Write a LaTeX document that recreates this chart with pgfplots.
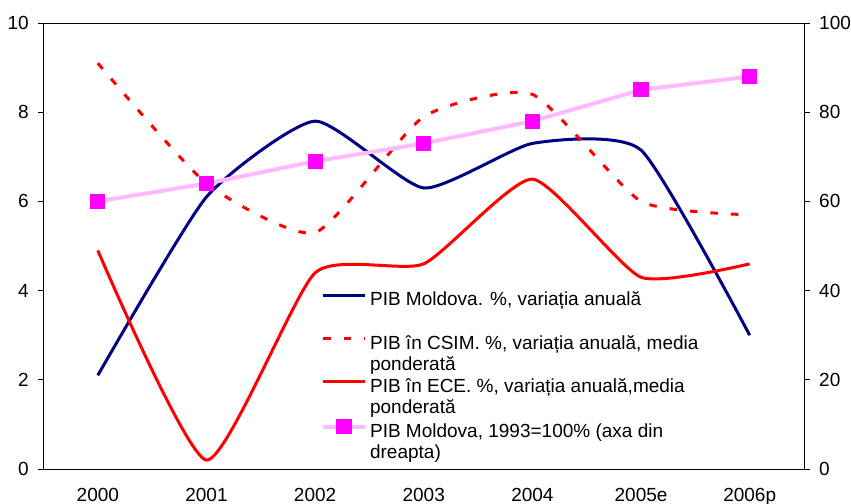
\documentclass[border=0pt]{standalone}
\usepackage{pgfplots}
\pgfplotsset{compat=1.18}
\usepackage{fontspec}
\setmainfont{Liberation Sans}
\definecolor{navyb}{RGB}{0,0,128}
\definecolor{pinkline}{RGB}{255,185,255}
\definecolor{magm}{RGB}{255,0,255}
\begin{document}
\begin{tikzpicture}[font=\fontsize{19bp}{21.2bp}\selectfont]
\begin{axis}[name=main,
  scale only axis, width=760.5bp, height=446bp,
  xmin=-0.5, xmax=6.5, ymin=0, ymax=10,
  ytick={0,2,...,10},
  xtick={0,...,6},
  xticklabels={2000,2001,2002,2003,2004,2005e,2006p},
  minor xtick={-0.5,0.5,...,6.5},
  xtick style={draw=none},
  minor tick length=5bp,
  major tick length=5bp,
  tick align=outside,
  xtick pos=bottom, ytick pos=left,
  axis line style={line width=0.8bp},
  every tick/.style={black, line width=0.8bp},
  minor x tick style={black, line width=0.8bp},
  /pgf/number format/assume math mode=true,
  yticklabel style={inner sep=0pt, xshift=-9.5bp},
  xticklabel style={inner sep=0pt, yshift=-14bp},
  legend style={draw=none, fill=none, inner sep=0pt, outer sep=0pt,
    at={(rel axis cs:0.365,0.399)}, anchor=north west,
    nodes={inner sep=0pt}, row sep=27bp, column sep=3bp},
  legend cell align=left,
  legend image code/.code={\draw[mark repeat=2,mark phase=2,#1] plot coordinates {(0bp,0.4em)(21bp,0.4em)(42bp,0.4em)};},
  clip=false,
]
\addplot[navyb, line width=3bp, smooth, tension=0.33] coordinates {
  (0,2.1) (1,6.1) (2,7.8) (3,6.3) (4,7.3) (5,7.15) (6,3.0)};
\addlegendentry{\begin{tabular}[t]{@{}l@{}}PIB Moldova. \%, variația anuală\\ \mbox{}\end{tabular}}
\addplot[red, line width=3bp, dash pattern=on 7.5bp off 13bp, smooth, tension=0.33] coordinates {
  (0,9.1) (1,6.4) (2,5.3) (3,7.9) (4,8.4) (5,6.0) (6,5.7)};
\addlegendentry{\begin{tabular}[t]{@{}l@{}}PIB în CSIM. \%, variația anuală, media\\ ponderată\end{tabular}}
\addplot[red, line width=3bp, smooth, tension=0.33] coordinates {
  (0,4.9) (1,0.2) (2,4.4) (3,4.6) (4,6.5) (5,4.3) (6,4.6)};
\addlegendentry{\begin{tabular}[t]{@{}l@{}}PIB în ECE. \%, variația anuală,media\\ ponderată\end{tabular}}
\addlegendimage{pinkline, line width=4bp, mark=square*, mark size=5.6bp, mark options={magm, draw=magm, fill=magm, solid}}
\addlegendentry{\begin{tabular}[t]{@{}l@{}}PIB Moldova, 1993=100\% (axa din\\ dreapta)\end{tabular}}
\end{axis}
\begin{axis}[
  scale only axis, width=760.5bp, height=446bp,
  xmin=-0.5, xmax=6.5, ymin=0, ymax=100,
  axis x line=none, axis y line*=right,
  ytick={0,20,...,100},
  tick align=outside, major tick length=6bp,
  axis line style={line width=0.8bp, -},
  every tick/.style={black, line width=0.8bp},
  /pgf/number format/assume math mode=true,
  yticklabel style={inner sep=0pt, xshift=9bp},
  clip=false,
]
\addplot[pinkline, line width=4bp, mark=square*, mark size=5.6bp, mark options={magm, draw=magm, fill=magm}] coordinates {
  (0,60) (1,64) (2,69) (3,73) (4,78) (5,85) (6,88)};
\end{axis}
\pgfresetboundingbox
\path ([xshift=-43.5bp,yshift=-35bp]main.south west) rectangle ([xshift=47bp,yshift=23bp]main.north east);
\end{tikzpicture}
\end{document}
